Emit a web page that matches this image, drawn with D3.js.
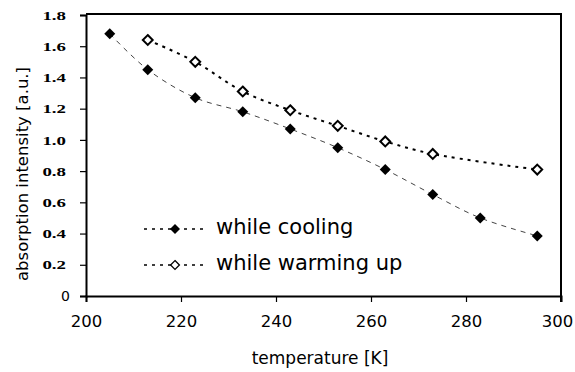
<!DOCTYPE html>
<html>
<head>
<meta charset="utf-8">
<script src="https://cdn.jsdelivr.net/npm/d3@7"></script>
<style>
  body { margin: 0; background: #fff; }
  svg { display: block; }
</style>
</head>
<body>
<div id="chart"></div>
<script>
// data
const coolingT = [205, 213, 223, 233, 243, 253, 263, 273, 283, 295];
const coolingI = [1.68, 1.45, 1.27, 1.18, 1.07, 0.95, 0.81, 0.65, 0.50, 0.385];
const warmingT = [213, 223, 233, 243, 253, 263, 273, 295];
const warmingI = [1.64, 1.50, 1.31, 1.19, 1.09, 0.99, 0.91, 0.81];
const xTicks = [200, 220, 240, 260, 280, 300];
const yTicks = [0, 0.2, 0.4, 0.6, 0.8, 1.0, 1.2, 1.4, 1.6, 1.8];
const seriesNames = ["while cooling", "while warming up"];

const W = 575, H = 372;
const margin = { top: 15, right: 14, bottom: 76, left: 86 };
const SANS = "'DejaVu Sans', 'Liberation Sans', sans-serif";
const SERIF = "'Liberation Serif', 'DejaVu Serif', serif";
const stretch = 1.45; // the y tick digits are drawn wide

const svg = d3.select("#chart").append("svg")
  .attr("width", W)
  .attr("height", H);

const x = d3.scaleLinear().domain([200, 300]).range([margin.left, W - margin.right]);
const y = d3.scaleLinear().domain([0, 1.8]).range([H - margin.bottom, margin.top]);

// frame (top + right)
svg.append("line")
  .attr("x1", x(200)).attr("x2", x(300))
  .attr("y1", y(1.8) - 1).attr("y2", y(1.8) - 1)
  .attr("stroke", "#000").attr("stroke-width", 2);
svg.append("line")
  .attr("x1", x(300)).attr("x2", x(300))
  .attr("y1", y(1.8) - 2).attr("y2", y(0) + 6)
  .attr("stroke", "#000").attr("stroke-width", 2);

// y axis
const yAxis = svg.append("g")
  .attr("transform", `translate(${x(200)},0)`)
  .call(d3.axisLeft(y).tickValues(yTicks).tickSize(6)
    .tickFormat(d => d === 0 ? "0" : d3.format(".1f")(d)));
yAxis.select(".domain").attr("stroke-width", 2);
yAxis.selectAll(".tick line").attr("stroke-width", 1.2);
yAxis.selectAll(".tick text")
  .attr("x", -20 / stretch)
  .attr("transform", `scale(${stretch},1)`)
  .attr("font-family", SERIF)
  .attr("font-weight", "bold")
  .attr("font-size", 13)
  .attr("fill", "#000");
yAxis.selectAll(".tick text").filter(d => d === 0)
  .attr("x", -16)
  .attr("transform", null)
  .attr("font-family", SANS)
  .attr("font-weight", "normal")
  .attr("font-size", 14);

// x axis
const xAxis = svg.append("g")
  .attr("transform", `translate(0,${y(0)})`)
  .call(d3.axisBottom(x).tickValues(xTicks).tickSize(6).tickPadding(13));
xAxis.select(".domain").attr("stroke-width", 2);
xAxis.selectAll(".tick line").attr("stroke-width", 1.2);
xAxis.selectAll(".tick text")
  .attr("font-family", SANS)
  .attr("font-size", 16.5)
  .attr("fill", "#000");
// last label sits against the window edge
xAxis.selectAll(".tick text").filter(d => d === 300).attr("dx", -4);

// axis titles
svg.append("text")
  .attr("x", 320)
  .attr("y", 364)
  .attr("text-anchor", "middle")
  .attr("font-family", SANS)
  .attr("font-size", 17)
  .text("temperature [K]");

svg.append("text")
  .attr("transform", "translate(28,174) rotate(-90)")
  .attr("text-anchor", "middle")
  .attr("font-family", SANS)
  .attr("font-size", 16.5)
  .text("absorption intensity [a.u.]");

const line = d3.line()
  .x(d => x(d[0]))
  .y(d => y(d[1]))
  .curve(d3.curveCatmullRom.alpha(0.5));

const cooling = coolingT.map((t, i) => [t, coolingI[i]]);
const warming = warmingT.map((t, i) => [t, warmingI[i]]);

const diamond = d3.symbol().type(d3.symbolDiamond2);

// warming up: open diamonds, dotted line
svg.append("path")
  .datum(warming)
  .attr("d", line)
  .attr("fill", "none")
  .attr("stroke", "#000")
  .attr("stroke-width", 2)
  .attr("stroke-dasharray", "3,5");

// cooling: filled diamonds, thin dashed line
svg.append("path")
  .datum(cooling)
  .attr("d", line)
  .attr("fill", "none")
  .attr("stroke", "#444")
  .attr("stroke-width", 1)
  .attr("stroke-dasharray", "5,5");

svg.selectAll(".warm")
  .data(warming)
  .enter().append("path")
  .attr("class", "warm")
  .attr("transform", d => `translate(${x(d[0])},${y(d[1])})`)
  .attr("d", diamond.size(62))
  .attr("fill", "#fff")
  .attr("stroke", "#000")
  .attr("stroke-width", 2);

svg.selectAll(".cool")
  .data(cooling)
  .enter().append("path")
  .attr("class", "cool")
  .attr("transform", d => `translate(${x(d[0])},${y(d[1])})`)
  .attr("d", diamond.size(77))
  .attr("fill", "#000");

// legend
const legend = svg.append("g");
const legY = [229, 265];
seriesNames.forEach((name, i) => {
  const g = legend.append("g").attr("transform", `translate(0,${legY[i]})`);
  g.append("line")
    .attr("x1", 144).attr("x2", 205)
    .attr("stroke", "#000").attr("stroke-width", 1.5)
    .attr("stroke-dasharray", "3,5");
  g.append("path")
    .attr("transform", "translate(175,0)")
    .attr("d", diamond.size(i === 0 ? 64 : 50))
    .attr("fill", i === 0 ? "#000" : "#fff")
    .attr("stroke", "#000")
    .attr("stroke-width", i === 0 ? 0 : 1.3);
  g.append("text")
    .attr("x", 216)
    .attr("y", 5)
    .attr("font-family", SANS)
    .attr("font-size", 21)
    .text(name);
});
</script>
</body>
</html>
